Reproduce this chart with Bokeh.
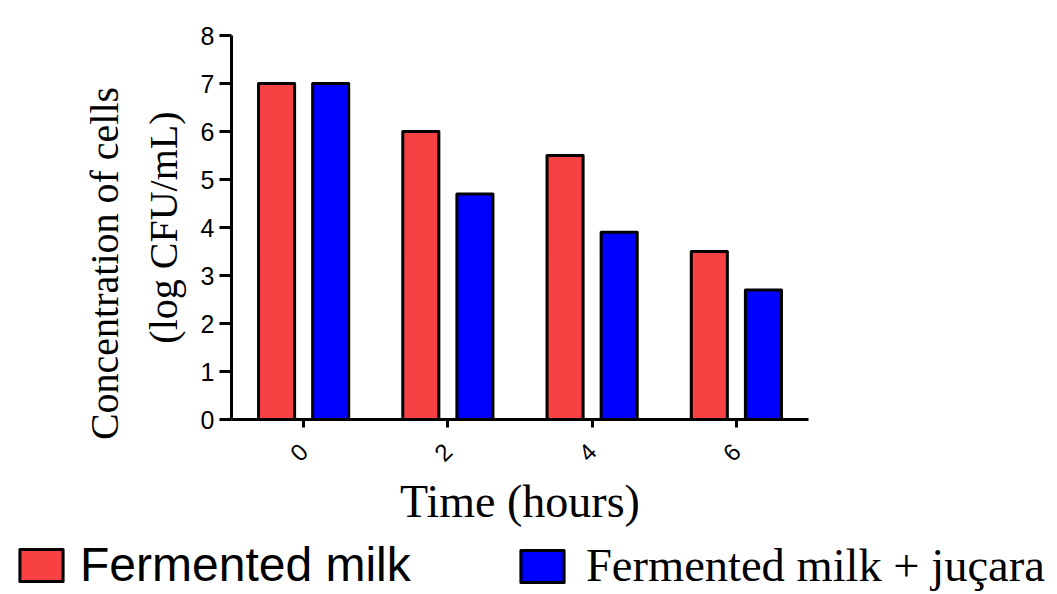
import math
from bokeh.plotting import figure
from bokeh.models import Range1d, FixedTicker, Legend, LegendItem, LinearAxis, Label
from bokeh.embed import file_html
from bokeh.resources import INLINE

# Data
hours = [0, 2, 4, 6]
fermented_milk = [7.0, 6.0, 5.5, 3.5]
fermented_milk_jucara = [7.0, 4.7, 3.9, 2.7]
series_names = ["Fermented milk", "Fermented milk + juçara"]
y_ticks = [0, 1, 2, 3, 4, 5, 6, 7, 8]
y_title_lines = ["Concentration of cells", "(log CFU/mL)"]
x_title = "Time (hours)"

RED = "#f84143"
BLUE = "#0000ff"

W, H = 1055, 594
# frame covers the whole canvas; axes are pinned inside it
XPX = 72.125   # px per hour
YPX = 48.0     # px per log unit
x0 = -1 - 231 / XPX
x1 = 7 + (W - 808) / XPX
y1 = 8 + 35 / YPX
y0 = -(H - 419) / YPX

p = figure(width=W, height=H, output_backend="svg", toolbar_location=None,
           x_range=Range1d(x0, x1), y_range=Range1d(y0, y1),
           x_axis_location=None, y_axis_location=None, min_border=0)
p.outline_line_color = None
p.grid.visible = False
p.background_fill_color = "white"
p.border_fill_color = "white"

off = 0.375
bw = 0.5
r1 = p.vbar(x=[h - off for h in hours], top=fermented_milk, width=bw, bottom=0,
            fill_color=RED, line_color="black", line_width=3, line_join="round")
r2 = p.vbar(x=[h + off for h in hours], top=fermented_milk_jucara, width=bw, bottom=0,
            fill_color=BLUE, line_color="black", line_width=3, line_join="round")

# y axis
ya = LinearAxis(fixed_location=-1, bounds=(0, 8))
ya.ticker = FixedTicker(ticks=y_ticks)
ya.minor_tick_line_color = None
ya.axis_line_width = 3
ya.major_tick_line_width = 3
ya.major_tick_out = 12
ya.major_tick_in = 0
ya.axis_line_color = "black"
ya.major_tick_line_color = "black"
ya.major_label_text_font = "Liberation Sans"
ya.major_label_text_font_size = "25px"
ya.major_label_text_color = "black"
ya.major_label_standoff = 5
ya.axis_label = y_title_lines[1]
ya.axis_label_text_font = "Liberation Serif"
ya.axis_label_text_font_size = "40px"
ya.axis_label_text_font_style = "normal"
ya.axis_label_text_color = "black"
ya.axis_label_standoff = 12
p.add_layout(ya, "left")

# first line of the y title (its two lines are end-aligned in the original)
p.add_layout(Label(x=x0 + 104 / XPX, y=y1 - 263 / YPX, text=y_title_lines[0],
                   angle=math.pi / 2, text_align="center", text_baseline="alphabetic",
                   text_font="Liberation Serif", text_font_size="40px",
                   text_color="black"))

# x axis
xa = LinearAxis(fixed_location=0, bounds=(-1, 7))
xa.ticker = FixedTicker(ticks=hours)
xa.minor_tick_line_color = None
xa.axis_line_width = 3
xa.major_tick_line_width = 3
xa.major_tick_out = 8
xa.major_tick_in = 0
xa.axis_line_color = "black"
xa.major_tick_line_color = "black"
xa.major_label_text_font = "Liberation Sans"
xa.major_label_text_font_size = "24px"
xa.major_label_text_color = "black"
xa.major_label_orientation = math.pi / 4
xa.major_label_standoff = 20
xa.axis_label = x_title
xa.axis_label_text_font = "Liberation Serif"
xa.axis_label_text_font_size = "46px"
xa.axis_label_text_font_style = "normal"
xa.axis_label_text_color = "black"
xa.axis_label_standoff = 4
p.add_layout(xa, "below")


def make_legend(renderer, label, font, size, loc, standoff):
    lg = Legend(items=[LegendItem(label=label, renderers=[renderer])], location=loc,
                glyph_width=54, glyph_height=40, label_text_font=font,
                label_text_font_size=size, label_text_color="black",
                label_standoff=standoff, padding=0, margin=0, spacing=0,
                border_line_color=None, background_fill_alpha=0,
                label_height=40)
    p.add_layout(lg, "center")


make_legend(r1, series_names[0], "Liberation Sans", "48px", (14, 2), 12)
make_legend(r2, series_names[1], "Liberation Serif", "46.5px", (515, 2), 17)

open("out.html", "w").write(file_html(p, INLINE))
